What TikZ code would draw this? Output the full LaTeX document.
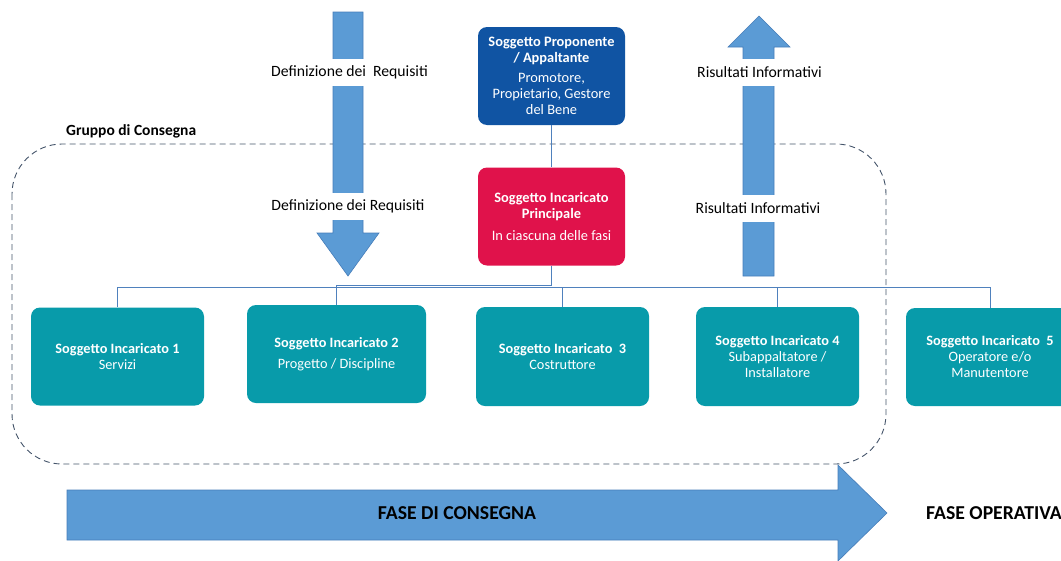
\documentclass[tikz,border=0pt]{standalone}
\usepackage{fontspec}
\setmainfont{Carlito}
\definecolor{propblue}{RGB}{16,84,163}
\definecolor{princred}{RGB}{224,18,75}
\definecolor{teal}{RGB}{8,155,170}
\definecolor{arrowblue}{RGB}{91,155,213}
\definecolor{arrowedge}{RGB}{70,125,185}
\definecolor{connblue}{RGB}{79,129,189}
\definecolor{groupgray}{RGB}{68,84,106}
\tikzset{
  box/.style={rounded corners=9pt, text=white, align=center, inner sep=0pt,
    font=\fontsize{14.4}{16}\selectfont},
  subbox/.style={box, fill=teal, minimum height=98pt,
    font=\fontsize{14.3}{16}\selectfont},
  conn/.style={draw=connblue, line width=1pt},
  blockarrow/.style={fill=arrowblue, draw=arrowedge, line width=0.6pt},
  flowlabel/.style={fill=white, inner xsep=1pt, inner ysep=0pt, minimum height=27pt,
    font=\fontsize{15.7}{16}\selectfont},
  phase/.style={font=\fontsize{19.7}{20}\selectfont\bfseries}
}
\begin{document}
\begin{tikzpicture}[x=1pt, y=-1pt]
\useasboundingbox (0,0) rectangle (1061,560);
\clip (0,0) rectangle (1061,560);

% delivery group frame
\draw[groupgray, line width=0.9pt, dash pattern=on 6pt off 4pt, rounded corners=50pt]
  (12,144) rectangle (886,464);
\node[anchor=west, inner sep=0pt, font=\fontsize{15.5}{16}\selectfont\bfseries] (grp) at (66,131) {Gruppo di Consegna};

% requirements flowing down
\draw[blockarrow] (333,12) -- (363,12) -- (363,233) -- (379,233) -- (348,276)
  -- (317,233) -- (333,233) -- cycle;
% information flowing up
\draw[blockarrow] (743,276) -- (774,276) -- (774,47) -- (790,47) -- (759,16)
  -- (728,47) -- (743,47) -- cycle;
% phase arrow
\draw[blockarrow] (67,490) -- (838,490) -- (838,465) -- (887,513) -- (838,561)
  -- (838,540) -- (67,540) -- cycle;

\node[flowlabel] (req1) at (349.5,72) {Definizione dei\ \ Requisiti};
\node[flowlabel] (req2) at (348,206) {Definizione dei Requisiti};
\node[flowlabel] (inf1) at (759.5,72.5) {Risultati Informativi};
\node[flowlabel] (inf2) at (758,208) {Risultati Informativi};

\node[phase] (consegna) at (457,513) {FASE DI CONSEGNA};
\node[phase, anchor=west, inner sep=0pt] (operativa) at (926,513) {FASE OPERATIVA};

% organisation boxes
\node[box, fill=propblue, minimum width=147pt, minimum height=98pt] (prop) at (551.5,76)
  {\textbf{Soggetto Proponente}\\ \textbf{/ Appaltante}\\[4pt]
   Promotore,\\ Propietario, Gestore\\ del Bene};
\node[box, fill=princred, minimum width=147pt, minimum height=98pt] (princ) at (551.5,216.5)
  {\textbf{Soggetto Incaricato}\\ \textbf{Principale}\\[6pt] In ciascuna delle fasi};

\node[subbox, minimum width=173pt] (s1) at (117.5,356.5)
  {\textbf{Soggetto Incaricato 1}\\ Servizi};
\node[subbox, minimum width=179pt] (s2) at (336.5,354)
  {\textbf{Soggetto Incaricato 2}\\[5pt] Progetto / Discipline};
\node[subbox, minimum width=173pt, minimum height=99pt] (s3) at (562.5,356.5)
  {\textbf{Soggetto Incaricato\ \ 3}\\ Costruttore};
\node[subbox, minimum width=163pt, minimum height=99pt] (s4) at (777.5,356.5)
  {\textbf{Soggetto Incaricato 4}\\ Subappaltatore /\\ Installatore};
\node[subbox, minimum width=168pt] (s5) at (990,357)
  {\textbf{Soggetto Incaricato\ \ 5}\\ Operatore e/o\\ Manutentore};

% connectors
\coordinate (bus) at (0,287);
\coordinate (branch) at (0,285);
\draw[conn] (prop.south) -- (princ.north);
\draw[conn] (princ.south) -- (princ.south |- branch) -- (s2.north |- branch) -- (s2.north);
\draw[conn] (s1.north) -- (s1.north |- bus) -- (s5.north |- bus) -- (s5.north);
\draw[conn] (s3.north) -- (s3.north |- bus);
\draw[conn] (s4.north) -- (s4.north |- bus);
\end{tikzpicture}
\end{document}
